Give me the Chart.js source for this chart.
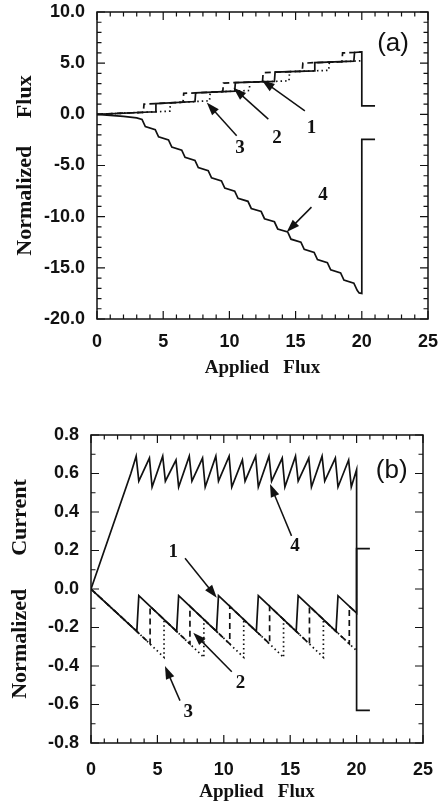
<!DOCTYPE html>
<html>
<head>
<meta charset="utf-8">
<script src="https://cdn.jsdelivr.net/npm/chart.js@4.4.1/dist/chart.umd.min.js"></script>
<style>
  html, body { margin: 0; padding: 0; background: #fff; }
  canvas { position: absolute; left: 0; }
</style>
</head>
<body>
<canvas id="chartA" width="440" height="400" style="top:0"></canvas>
<canvas id="chartB" width="440" height="406" style="top:400px"></canvas>
<script>
// ---------- ticks ----------
const xTicks = [0, 5, 10, 15, 20, 25];
const fluxTicks = [10, 5, 0, -5, -10, -15, -20];
const currentTicks = [0.8, 0.6, 0.4, 0.2, 0, -0.2, -0.4, -0.6, -0.8];

// ---------- (a) normalized flux ----------
const flux1X = [0, 4.4, 4.45, 7.4, 7.45, 10.4, 10.45, 13.4, 13.45, 16.4, 16.45, 19.4, 19.45, 20, 20, 21];
const flux1Y = [0, 0.25, 1.05, 1.25, 2.1, 2.27, 3.1, 3.22, 4.12, 4.25, 5.05, 5.2, 6.05, 6.1, 0.83, 0.83];

const flux2X = [0, 3.5, 3.55, 4.45, 6.5, 6.55, 7.45, 9.5, 9.55, 10.45, 12.5, 12.55, 13.45, 15.5, 15.55, 16.45, 18.5, 18.55, 19.45, 20];
const flux2Y = [0, 0.2, 1.0, 1.05, 1.19, 2.05, 2.1, 2.22, 3.05, 3.1, 3.18, 4.07, 4.12, 4.21, 5.0, 5.05, 5.15, 6.0, 6.05, 6.1];

const flux3X = [0, 4.4, 5.5, 5.55, 7.4, 8.5, 8.55, 10.4, 11.5, 11.55, 13.4, 14.5, 14.55, 16.4, 17.5, 17.55, 19.4, 20];
const flux3Y = [0, 0.25, 0.31, 1.12, 1.25, 1.32, 2.16, 2.27, 2.33, 3.14, 3.22, 3.27, 4.17, 4.25, 4.3, 5.1, 5.2, 5.24];

const flux4X = [0, 1, 2, 3, 3.4, 3.65, 4.4, 4.65, 5.4, 5.65, 6.4, 6.65, 7.4, 7.65, 8.4, 8.65, 9.4, 9.65,
  10.4, 10.65, 11.4, 11.65, 12.4, 12.65, 13.4, 13.65, 14.4, 14.65, 15.4, 15.65, 16.4, 16.65,
  17.4, 17.65, 18.4, 18.65, 19.4, 19.65, 19.8, 20, 20, 21];
const flux4Y = [0, -0.1, -0.2, -0.35, -0.5, -1.2, -1.5, -2.2, -2.5, -3.2, -3.5, -4.2, -4.5, -5.2, -5.5, -6.2, -6.5, -7.2,
  -7.5, -8.2, -8.5, -9.2, -9.5, -10.2, -10.5, -11.2, -11.5, -12.2, -12.5, -13.2, -13.5, -14.2,
  -14.5, -15.2, -15.5, -16.2, -16.5, -17.2, -17.45, -17.5, -2.45, -2.45];

// ---------- (b) normalized current ----------
const cur1X = [0, 3.45, 3.6, 6.45, 6.6, 9.45, 9.6, 12.45, 12.6, 15.45, 15.6, 18.45, 18.6, 20, 20, 21];
const cur1Y = [0, -0.22, -0.035, -0.22, -0.035, -0.22, -0.035, -0.22, -0.035, -0.22, -0.035, -0.22, -0.035, -0.125, 0.21, 0.21];

const cur2X = [0, 3.45, 4.45, 4.45, 6.45, 7.45, 7.45, 9.45, 10.45, 10.45, 12.45, 13.45, 13.45, 15.45, 16.45, 16.45, 18.45, 19.45, 19.45, 20];
const cur2Y = [0, -0.22, -0.285, -0.09, -0.22, -0.285, -0.09, -0.22, -0.285, -0.09, -0.22, -0.285, -0.09, -0.22, -0.285, -0.09, -0.22, -0.285, -0.09, -0.125];

const cur3X = [0, 3.45, 5.5, 5.5, 6.45, 8.5, 8.5, 9.45, 11.5, 11.5, 12.45, 14.5, 14.5, 15.45, 17.5, 17.5, 18.45, 20];
const cur3Y = [0, -0.22, -0.355, -0.16, -0.22, -0.355, -0.16, -0.22, -0.355, -0.16, -0.22, -0.355, -0.16, -0.22, -0.355, -0.16, -0.22, -0.32];

const cur4X = [0, 3.0, 3.4, 3.6, 4.4, 4.6, 5.4, 5.6, 6.4, 6.6, 7.4, 7.6, 8.4, 8.6, 9.4, 9.6, 10.4, 10.6,
  11.4, 11.6, 12.4, 12.6, 13.4, 13.6, 14.4, 14.6, 15.4, 15.6, 16.4, 16.6, 17.4, 17.6, 18.4, 18.6, 19.4, 19.6, 20, 20, 21];
const cur4Y = [0, 0.6, 0.69, 0.56, 0.68, 0.53, 0.69, 0.56, 0.67, 0.53, 0.69, 0.56, 0.68, 0.53, 0.69, 0.56, 0.69, 0.53,
  0.67, 0.56, 0.69, 0.53, 0.69, 0.56, 0.68, 0.53, 0.69, 0.56, 0.68, 0.53, 0.69, 0.56, 0.68, 0.53, 0.67, 0.53, 0.62, -0.63, -0.63];

// ---------- curve labels with arrows (data coords) ----------
const notesA = [
  { label: '1', at: [16.2, -1.3], from: [15.7, 0.34], to: [12.44, 3.35] },
  { label: '2', at: [13.6, -2.3], from: [12.94, -0.47], to: [10.3, 2.6] },
  { label: '3', at: [10.8, -3.26], from: [10.55, -2.1], to: [8.29, 1.15] },
  { label: '4', at: [17.07, -7.94], from: [16.2, -9.07], to: [14.33, -11.5] }
];
const notesB = [
  { label: '1', at: [6.2, 0.19], from: [7.08, 0.16], to: [9.47, -0.045] },
  { label: '2', at: [11.25, -0.49], from: [10.6, -0.43], to: [7.7, -0.227] },
  { label: '3', at: [7.33, -0.64], from: [6.7, -0.58], to: [5.57, -0.4] },
  { label: '4', at: [15.36, 0.224], from: [15.1, 0.276], to: [13.48, 0.545] }
];

const ink = '#111';
const tickFont = { family: '"Liberation Sans", Arial, sans-serif', size: 18, weight: 'bold' };

function pts(xs, ys) {
  return xs.map((x, i) => ({ x: x, y: ys[i] }));
}

function curve(xs, ys, dash) {
  return {
    data: pts(xs, ys),
    showLine: true,
    borderColor: ink,
    borderWidth: 1.7,
    borderDash: dash,
    pointRadius: 0,
    tension: 0,
    fill: false
  };
}

function arrow(ctx, x1, y1, x2, y2) {
  const a = Math.atan2(y2 - y1, x2 - x1);
  const c = Math.cos(a), s = Math.sin(a);
  ctx.beginPath();
  ctx.moveTo(x1, y1);
  ctx.lineTo(x2 - 8 * c, y2 - 8 * s);
  ctx.stroke();
  ctx.beginPath();
  ctx.moveTo(x2, y2);
  ctx.lineTo(x2 - 13 * c + 4.5 * s, y2 - 13 * s - 4.5 * c);
  ctx.lineTo(x2 - 13 * c - 4.5 * s, y2 - 13 * s + 4.5 * c);
  ctx.closePath();
  ctx.fill();
}

// frame on four sides, inward ticks, arrows and the panel tag
const frame = {
  id: 'frame',
  afterDraw(chart, args, o) {
    const { ctx, chartArea: a, scales: { x, y } } = chart;
    ctx.save();
    ctx.strokeStyle = ink;
    ctx.fillStyle = ink;
    ctx.lineWidth = 1.5;
    ctx.strokeRect(a.left, a.top, a.right - a.left, a.bottom - a.top);

    ctx.lineWidth = 1.2;
    ctx.beginPath();
    const nx = Math.round((x.max - x.min) / o.minorX);
    for (let i = 0; i <= nx; i++) {
      const p = x.getPixelForValue(x.min + i * o.minorX);
      const len = i % o.perMajor === 0 ? 8 : 4.5;
      ctx.moveTo(p, a.bottom); ctx.lineTo(p, a.bottom - len);
      ctx.moveTo(p, a.top); ctx.lineTo(p, a.top + len);
    }
    const ny = Math.round((y.max - y.min) / o.minorY);
    for (let i = 0; i <= ny; i++) {
      const p = y.getPixelForValue(y.min + i * o.minorY);
      const len = i % o.perMajorY === 0 ? 8 : 4.5;
      ctx.moveTo(a.left, p); ctx.lineTo(a.left + len, p);
      ctx.moveTo(a.right, p); ctx.lineTo(a.right - len, p);
    }
    ctx.stroke();

    ctx.lineWidth = 1.5;
    ctx.font = 'bold 19px "Liberation Serif", "Times New Roman", serif';
    ctx.textAlign = 'center';
    ctx.textBaseline = 'middle';
    o.notes.forEach(n => {
      arrow(ctx, x.getPixelForValue(n.from[0]), y.getPixelForValue(n.from[1]),
        x.getPixelForValue(n.to[0]), y.getPixelForValue(n.to[1]));
      ctx.fillText(n.label, x.getPixelForValue(n.at[0]), y.getPixelForValue(n.at[1]));
    });

    ctx.font = '26px "Liberation Sans", Arial, sans-serif';
    ctx.fillText(o.tag.text, x.getPixelForValue(o.tag.at[0]), y.getPixelForValue(o.tag.at[1]));
    ctx.restore();
  }
};

function makeChart(id, cfg) {
  return new Chart(document.getElementById(id), {
    type: 'scatter',
    data: {
      datasets: [
        curve(cfg.s1[0], cfg.s1[1], []),
        curve(cfg.s4[0], cfg.s4[1], []),
        curve(cfg.s2[0], cfg.s2[1], [6, 4]),
        curve(cfg.s3[0], cfg.s3[1], [1.5, 3])
      ]
    },
    options: {
      responsive: false,
      animation: false,
      devicePixelRatio: 1,
      layout: { padding: cfg.pad },
      plugins: {
        legend: { display: false },
        tooltip: { enabled: false },
        frame: cfg.frame
      },
      scales: {
        x: {
          type: 'linear',
          min: 0, max: 25,
          afterBuildTicks: s => { s.ticks = xTicks.map(v => ({ value: v })); },
          afterFit: s => { s.height = cfg.xHeight; s.paddingLeft = 0; s.paddingRight = 0; },
          grid: { display: false, drawTicks: false },
          border: { display: false },
          ticks: { color: ink, font: tickFont, padding: cfg.xPad, maxRotation: 0, callback: v => String(v) },
          title: {
            display: true, text: 'Applied   Flux', color: ink,
            font: { family: '"Liberation Serif", "Times New Roman", serif', size: 19, weight: 'bold' },
            padding: { top: 0, bottom: cfg.xTitlePad }
          }
        },
        y: {
          type: 'linear',
          min: cfg.yMin, max: cfg.yMax,
          afterBuildTicks: s => { s.ticks = cfg.yTicks.map(v => ({ value: v })); },
          afterFit: s => { s.width = cfg.yWidth; s.paddingTop = 0; s.paddingBottom = 0; },
          grid: { display: false, drawTicks: false },
          border: { display: false },
          ticks: { color: ink, font: tickFont, padding: 12, callback: v => v.toFixed(1) },
          title: {
            display: true, text: cfg.yTitle, color: ink,
            font: { family: '"Liberation Serif", "Times New Roman", serif', size: 22, weight: 'bold' },
            padding: { top: cfg.yTitlePad, bottom: 0 }
          }
        }
      }
    },
    plugins: [frame]
  });
}

makeChart('chartA', {
  s1: [flux1X, flux1Y], s2: [flux2X, flux2Y], s3: [flux3X, flux3Y], s4: [flux4X, flux4Y],
  yMin: -20, yMax: 10, yTicks: fluxTicks,
  yTitle: 'Normalized     Flux',
  pad: { top: 12, right: 12, left: 0, bottom: 0 },
  xHeight: 81, yWidth: 97, xPad: 12, xTitlePad: 21, yTitlePad: 12,
  frame: { minorX: 1, perMajor: 5, minorY: 1, perMajorY: 5, notes: notesA, tag: { text: '(a)', at: [22.36, 6.86] } }
});

makeChart('chartB', {
  s1: [cur1X, cur1Y], s2: [cur2X, cur2Y], s3: [cur3X, cur3Y], s4: [cur4X, cur4Y],
  yMin: -0.8, yMax: 0.8, yTicks: currentTicks,
  yTitle: 'Normalized      Current',
  pad: { top: 35, right: 17, left: 0, bottom: 0 },
  xHeight: 63, yWidth: 91, xPad: 16, xTitlePad: 3, yTitlePad: 7,
  frame: { minorX: 1, perMajor: 5, minorY: 0.1, perMajorY: 2, notes: notesB, tag: { text: '(b)', at: [22.64, 0.615] } }
});
</script>
</body>
</html>
